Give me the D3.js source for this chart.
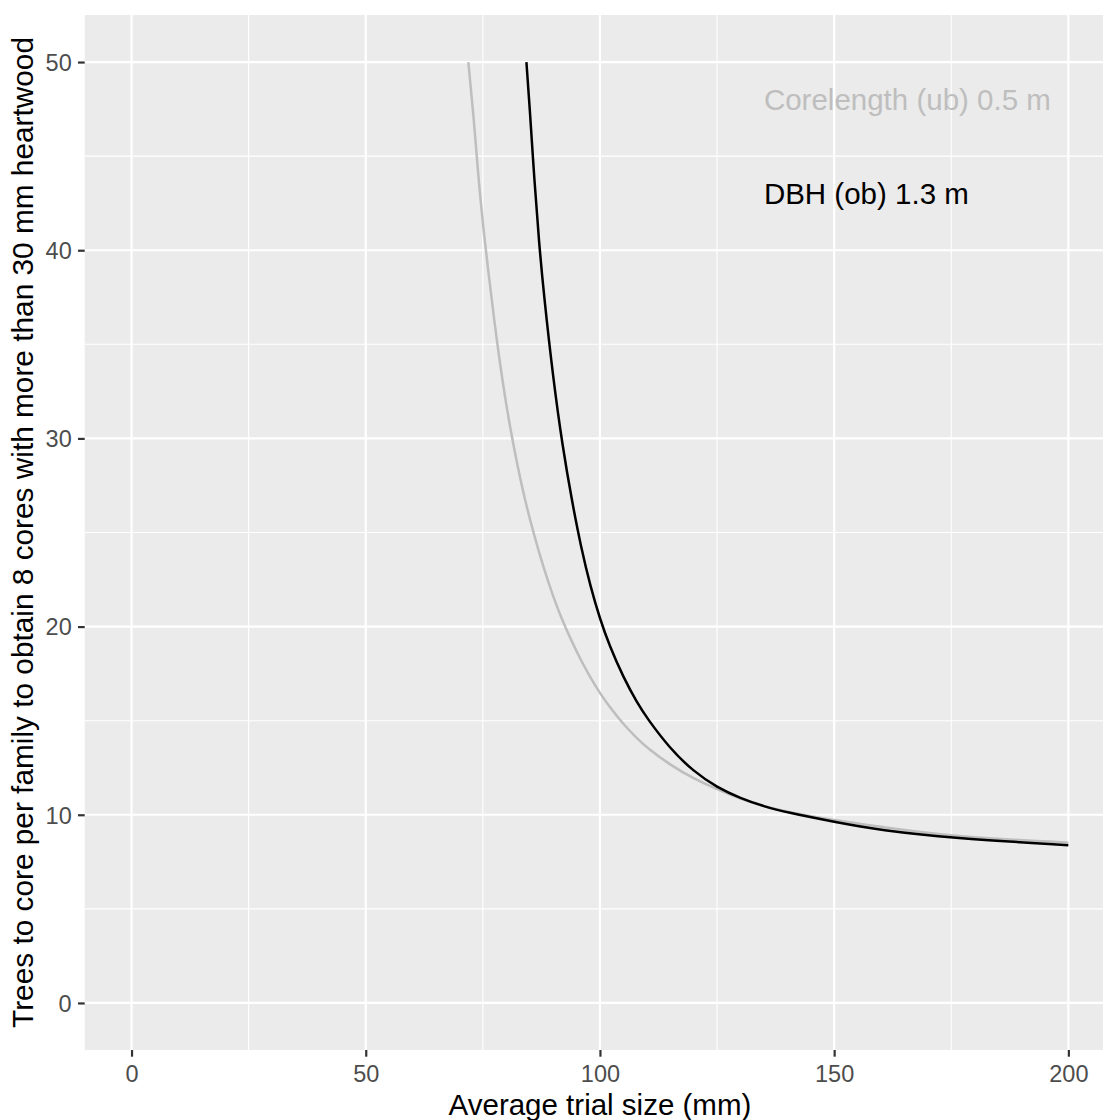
<!DOCTYPE html>
<html>
<head>
<meta charset="utf-8">
<script src="https://cdn.jsdelivr.net/npm/d3@7"></script>
<style>
  html, body { margin: 0; padding: 0; background: #ffffff; overflow: hidden; }
  svg { display: block; }
  text { font-family: "Liberation Sans", Arial, sans-serif; }
</style>
</head>
<body>
<script>
// ---------- data ----------
const xMajorTicks = [0, 50, 100, 150, 200];
const xMinorTicks = [25, 75, 125, 175];
const yMajorTicks = [0, 10, 20, 30, 40, 50];
const yMinorTicks = [5, 15, 25, 35, 45];

const corelengthX = [71.9, 73, 74, 75, 76, 78, 80, 82, 84, 86, 88, 90, 92, 94, 96, 98, 100, 102, 105, 108, 110, 115, 120, 125, 130, 135, 140, 150, 160, 175, 200];
const corelengthY = [50, 47.2, 44.0, 41.4, 39.2, 35.1, 31.7, 29.0, 26.7, 24.8, 23.1, 21.6, 20.3, 19.2, 18.18, 17.28, 16.46, 15.75, 14.81, 14.04, 13.58, 12.64, 11.92, 11.35, 10.85, 10.45, 10.15, 9.7, 9.36, 8.84, 8.52];

const dbhX = [84.3, 85, 86, 87, 88, 90, 92, 94, 96, 98, 100, 102, 105, 108, 110, 115, 120, 125, 130, 135, 140, 150, 160, 175, 200];
const dbhY = [50, 47.6, 43.7, 40.4, 37.7, 33.2, 29.6, 26.7, 24.17, 22.1, 20.41, 19.0, 17.3, 15.92, 15.15, 13.5, 12.3, 11.45, 10.88, 10.44, 10.12, 9.62, 9.17, 8.77, 8.38];

const labels = ["Corelength (ub) 0.5 m", "DBH (ob) 1.3 m"];
const labelX = [135, 135];
const labelY = [48, 43];

const xTitle = "Average trial size (mm)";
const yTitle = "Trees to core per family to obtain 8 cores with more than 30 mm heartwood";

// ---------- layout ----------
const W = 1103, H = 1120;
const panel = { left: 84.7, top: 15, right: 1115.2, bottom: 1050 };
const colGrey = "#BEBEBE", colBlack = "#000000";

const svg = d3.select("body").append("svg").attr("width", W).attr("height", H);
svg.append("rect").attr("width", W).attr("height", H).attr("fill", "#ffffff");

const x = d3.scaleLinear().domain([-10, 210]).range([panel.left, panel.right]);
const y = d3.scaleLinear().domain([-2.5, 52.5]).range([panel.bottom, panel.top]);

// panel background
svg.append("rect")
  .attr("x", panel.left).attr("y", panel.top)
  .attr("width", panel.right - panel.left).attr("height", panel.bottom - panel.top)
  .attr("fill", "#EBEBEB");

const grid = svg.append("g");
grid.selectAll(".xminor").data(xMinorTicks).join("line")
  .attr("x1", d => x(d)).attr("x2", d => x(d))
  .attr("y1", panel.top).attr("y2", panel.bottom)
  .attr("stroke", "#ffffff").attr("stroke-width", 1.1);
grid.selectAll(".yminor").data(yMinorTicks).join("line")
  .attr("y1", d => y(d)).attr("y2", d => y(d))
  .attr("x1", panel.left).attr("x2", panel.right)
  .attr("stroke", "#ffffff").attr("stroke-width", 1.1);
grid.selectAll(".xmajor").data(xMajorTicks).join("line")
  .attr("x1", d => x(d)).attr("x2", d => x(d))
  .attr("y1", panel.top).attr("y2", panel.bottom)
  .attr("stroke", "#ffffff").attr("stroke-width", 2.2);
grid.selectAll(".ymajor").data(yMajorTicks).join("line")
  .attr("y1", d => y(d)).attr("y2", d => y(d))
  .attr("x1", panel.left).attr("x2", panel.right)
  .attr("stroke", "#ffffff").attr("stroke-width", 2.2);

// lines
const line = d3.line().x(d => x(d[0])).y(d => y(d[1])).curve(d3.curveBasis);
const greyData = corelengthX.map((v, i) => [v, corelengthY[i]]);
const blackData = dbhX.map((v, i) => [v, dbhY[i]]);

svg.append("path").datum(greyData).attr("d", line)
  .attr("fill", "none").attr("stroke", colGrey).attr("stroke-width", 2.5);
svg.append("path").datum(blackData).attr("d", line)
  .attr("fill", "none").attr("stroke", colBlack).attr("stroke-width", 2.5);

// annotations
const labColors = [colGrey, colBlack];
svg.selectAll(".lab").data(labels).join("text")
  .attr("x", (d, i) => x(labelX[i]))
  .attr("y", (d, i) => y(labelY[i]) + 10.5)
  .attr("fill", (d, i) => labColors[i])
  .attr("font-size", "29.5px")
  .text(d => d);

// axes
const xAxis = d3.axisBottom(x).tickValues(xMajorTicks).tickSize(6.7).tickPadding(8);
const gx = svg.append("g").attr("transform", `translate(0,${panel.bottom})`).call(xAxis);
gx.select(".domain").remove();
gx.selectAll(".tick line").attr("stroke", "#333333").attr("stroke-width", 2.2);
gx.selectAll(".tick text").attr("fill", "#4D4D4D").attr("font-size", "23.5px")
  .attr("font-family", "Liberation Sans, Arial, sans-serif")
  .attr("dy", null).attr("y", 32).attr("dominant-baseline", "alphabetic");

const yAxis = d3.axisLeft(y).tickValues(yMajorTicks).tickSize(6.7).tickPadding(6);
const gy = svg.append("g").attr("transform", `translate(${panel.left},0)`).call(yAxis);
gy.select(".domain").remove();
gy.selectAll(".tick line").attr("stroke", "#333333").attr("stroke-width", 2.2);
gy.selectAll(".tick text").attr("fill", "#4D4D4D").attr("font-size", "23.5px")
  .attr("font-family", "Liberation Sans, Arial, sans-serif")
  .attr("x", -13).attr("dy", null).attr("y", 8.4).attr("dominant-baseline", "alphabetic");

// axis titles
svg.append("text")
  .attr("x", (panel.left + panel.right) / 2).attr("y", 1114.5)
  .attr("text-anchor", "middle").attr("font-size", "29.5px").attr("fill", "#000")
  .text(xTitle);
svg.append("text")
  .attr("transform", `translate(33,${(panel.top + panel.bottom) / 2}) rotate(-90)`)
  .attr("text-anchor", "middle").attr("font-size", "29.8px").attr("fill", "#000")
  .text(yTitle);
</script>
</body>
</html>
